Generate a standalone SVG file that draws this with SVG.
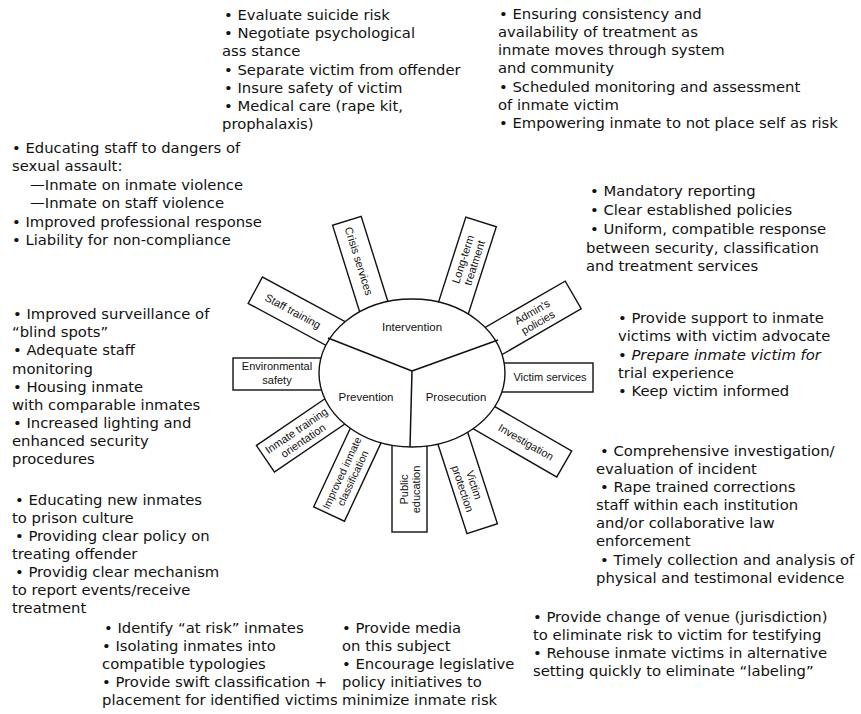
<svg xmlns="http://www.w3.org/2000/svg" width="861" height="714" viewBox="0 0 861 714">
<style>
.t{font-family:"DejaVu Sans","Liberation Sans",sans-serif;font-size:14.8px;fill:#111}
.i{font-style:italic}
.b{font-family:"Liberation Sans",Arial,sans-serif;font-size:11px;fill:#111;text-anchor:middle}
.c{font-family:"Liberation Sans",Arial,sans-serif;font-size:11.5px;fill:#111;text-anchor:middle}
.box{fill:#fff;stroke:#111;stroke-width:1.4}
.ln{fill:none;stroke:#111;stroke-width:1.5}
</style>
<rect width="861" height="714" fill="#fff"/>

<!-- text blocks -->
<g id="txt-intervention-top">
<text class="t"><tspan x="224" y="20">• Evaluate suicide risk</tspan><tspan x="224" y="38">• Negotiate psychological</tspan><tspan x="222" y="56">ass stance</tspan><tspan x="224" y="75">• Separate victim from offender</tspan><tspan x="224" y="93">• Insure safety of victim</tspan><tspan x="224" y="111">• Medical care (rape kit,</tspan><tspan x="222" y="129">prophalaxis)</tspan></text>
</g>
<g id="txt-longterm">
<text class="t"><tspan x="499" y="19">• Ensuring consistency and</tspan><tspan x="498" y="37">availability of treatment as</tspan><tspan x="498" y="55">inmate moves through system</tspan><tspan x="498" y="73">and community</tspan><tspan x="499" y="92">• Scheduled monitoring and assessment</tspan><tspan x="498" y="110">of inmate victim</tspan><tspan x="499" y="128">• Empowering inmate to not place self as risk</tspan></text>
</g>
<g id="txt-staff">
<text class="t"><tspan x="12" y="153">• Educating staff to dangers of</tspan><tspan x="12" y="171">sexual assault:</tspan><tspan x="30" y="190">—Inmate on inmate violence</tspan><tspan x="30" y="208">—Inmate on staff violence</tspan><tspan x="12" y="227">• Improved professional response</tspan><tspan x="12" y="245">• Liability for non-compliance</tspan></text>
</g>
<g id="txt-admin">
<text class="t"><tspan x="590" y="196">• Mandatory reporting</tspan><tspan x="590" y="215">• Clear established policies</tspan><tspan x="590" y="234">• Uniform, compatible response</tspan><tspan x="586" y="253">between security, classification</tspan><tspan x="586" y="271">and treatment services</tspan></text>
</g>
<g id="txt-environment">
<text class="t"><tspan x="13" y="319">• Improved surveillance of</tspan><tspan x="12" y="337">“blind spots”</tspan><tspan x="13" y="355">• Adequate staff</tspan><tspan x="12" y="374">monitoring</tspan><tspan x="13" y="392">• Housing inmate</tspan><tspan x="12" y="410">with comparable inmates</tspan><tspan x="13" y="428">• Increased lighting and</tspan><tspan x="12" y="446">enhanced security</tspan><tspan x="12" y="464">procedures</tspan></text>
</g>
<g id="txt-victim-services">
<text class="t"><tspan x="618" y="323">• Provide support to inmate</tspan><tspan x="618" y="341">victims with victim advocate</tspan><tspan x="618" y="360" class="i">• Prepare inmate victim for</tspan><tspan x="618" y="378">trial experience</tspan><tspan x="618" y="396">• Keep victim informed</tspan></text>
</g>
<g id="txt-orientation">
<text class="t"><tspan x="15" y="505">• Educating new inmates</tspan><tspan x="12" y="523">to prison culture</tspan><tspan x="15" y="541">• Providing clear policy on</tspan><tspan x="12" y="559">treating offender</tspan><tspan x="15" y="577">• Providig clear mechanism</tspan><tspan x="12" y="595">to report events/receive</tspan><tspan x="12" y="613">treatment</tspan></text>
</g>
<g id="txt-investigation">
<text class="t"><tspan x="600" y="456">• Comprehensive investigation/</tspan><tspan x="596" y="474">evaluation of incident</tspan><tspan x="600" y="492">• Rape trained corrections</tspan><tspan x="596" y="510">staff within each institution</tspan><tspan x="596" y="528">and/or collaborative law</tspan><tspan x="596" y="546">enforcement</tspan><tspan x="600" y="565">• Timely collection and analysis of</tspan><tspan x="596" y="583">physical and testimonal evidence</tspan></text>
</g>
<g id="txt-classification">
<text class="t"><tspan x="104" y="633">• Identify “at risk” inmates</tspan><tspan x="102" y="651">• Isolating inmates into</tspan><tspan x="102" y="669">compatible typologies</tspan><tspan x="102" y="687">• Provide swift classification +</tspan><tspan x="102" y="705">placement for identified victims</tspan></text>
</g>
<g id="txt-public">
<text class="t"><tspan x="342" y="633">• Provide media</tspan><tspan x="342" y="651">on this subject</tspan><tspan x="342" y="669">• Encourage legislative</tspan><tspan x="342" y="687">policy initiatives to</tspan><tspan x="342" y="705">minimize inmate risk</tspan></text>
</g>
<g id="txt-protection">
<text class="t"><tspan x="533" y="622">• Provide change of venue (jurisdiction)</tspan><tspan x="533" y="640">to eliminate risk to victim for testifying</tspan><tspan x="533" y="658">• Rehouse inmate victims in alternative</tspan><tspan x="533" y="676">setting quickly to eliminate “labeling”</tspan></text>
</g>

<!-- radial boxes -->
<g id="box-environmental-safety">
<rect class="box" x="233" y="358" width="97" height="32"/>
<text class="b"><tspan x="277" y="370">Environmental</tspan><tspan x="277" y="384">safety</tspan></text>
</g>
<g id="box-staff-training">
<rect class="box" transform="translate(331,331) rotate(208.3)" x="-14" y="-15" width="100" height="30"/>
<text class="b" transform="translate(293,311) rotate(28.3)" y="4">Staff training</text>
</g>
<g id="box-crisis-services">
<rect class="box" transform="translate(372,301) rotate(252.6)" x="-14" y="-15" width="98" height="30"/>
<text class="b" transform="translate(359,261) rotate(72.6)" y="4">Crisis services</text>
</g>
<g id="box-long-term-treatment">
<rect class="box" transform="translate(456,300) rotate(-72.2)" x="-14" y="-16" width="96" height="32"/>
<text class="b" transform="translate(468.5,261) rotate(-72.2)"><tspan x="0" y="-2">Long-term</tspan><tspan x="0" y="10">treatment</tspan></text>
</g>
<g id="box-admins-policies">
<rect class="box" transform="translate(497,339) rotate(-30)" x="-14" y="-16" width="102" height="32"/>
<text class="b" transform="translate(535,317) rotate(-30)"><tspan x="0" y="-2">Admin's</tspan><tspan x="0" y="10">policies</tspan></text>
</g>
<g id="box-victim-services">
<rect class="box" x="495" y="363" width="98" height="29"/>
<text class="b" x="550" y="381">Victim services</text>
</g>
<g id="box-investigation">
<rect class="box" transform="translate(488,420) rotate(30)" x="-14" y="-15" width="102" height="30"/>
<text class="b" transform="translate(526,442) rotate(30)" y="4">Investigation</text>
</g>
<g id="box-victim-protection">
<rect class="box" transform="translate(455,445) rotate(72)" x="-14" y="-16" width="102" height="32"/>
<text class="b" transform="translate(468.6,486.8) rotate(72)"><tspan x="0" y="-2">Victim</tspan><tspan x="0" y="10">protection</tspan></text>
</g>
<g id="box-public-education">
<rect class="box" x="392" y="435" width="35" height="97"/>
<text class="b" transform="translate(409.5,489.5) rotate(-90)"><tspan x="0" y="-2">Public</tspan><tspan x="0" y="10">education</tspan></text>
</g>
<g id="box-improved-inmate-classification">
<rect class="box" transform="translate(365,437) rotate(115)" x="-14" y="-17" width="99" height="34"/>
<text class="b" transform="translate(347,475.5) rotate(-65)" style="font-size:10.5px"><tspan x="0" y="-2">Improved inmate</tspan><tspan x="0" y="10">classification</tspan></text>
</g>
<g id="box-inmate-training-orientation">
<rect class="box" transform="translate(334,412) rotate(145.7)" x="-14" y="-16" width="97" height="32"/>
<text class="b" transform="translate(299.7,435.4) rotate(-34.3)"><tspan x="0" y="-2">Inmate training</tspan><tspan x="0" y="10">orientation</tspan></text>
</g>

<!-- central ellipse -->
<g id="hub">
<ellipse class="box" cx="412" cy="373" rx="93" ry="74" stroke-width="1.5"/>
<text class="c" x="412" y="331">Intervention</text>
<text class="c" x="366" y="401">Prevention</text>
<text class="c" x="456" y="401">Prosecution</text>
</g>
<g id="connectors">
<path class="ln" d="M412,371 L328,338 M412,371 L498,340 M412,371 L410,447"/>
</g>
</svg>
